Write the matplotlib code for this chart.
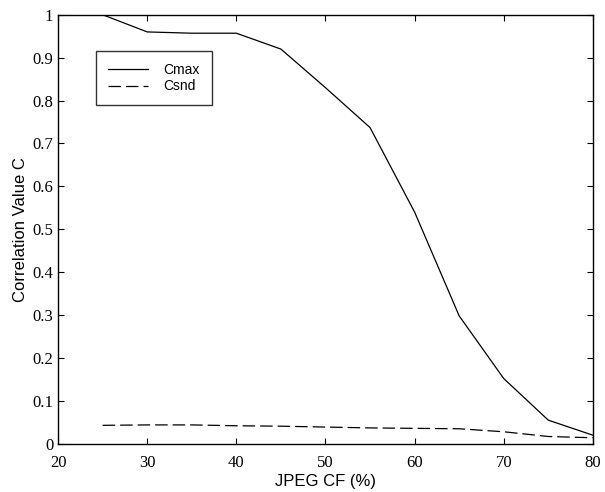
import matplotlib.pyplot as plt

# JPEG compression factor (%)
jpeg_cf = [25, 30, 35, 40, 45, 50, 55, 60, 65, 70, 75, 80]
# correlation values
cmax = [1.0, 0.96, 0.957, 0.957, 0.92, 0.83, 0.737, 0.54, 0.298, 0.152, 0.055, 0.02]
csnd = [0.043, 0.044, 0.044, 0.042, 0.041, 0.039, 0.037, 0.036, 0.035, 0.028, 0.017, 0.014]

fig = plt.figure(figsize=(6.05, 4.92), dpi=100)
ax = fig.add_axes([0.096, 0.098, 0.884, 0.872])

ax.plot(jpeg_cf, cmax, color='black', lw=0.9, label='Cmax')
ax.plot(jpeg_cf, csnd, color='black', lw=0.9, linestyle=(0, (10, 4)), label='Csnd')

ax.set_xlim(20, 80)
ax.set_ylim(0, 1)
ax.set_xticks(range(20, 81, 10))
ax.set_yticks([i / 10 for i in range(11)])
ax.set_yticklabels(['0', '0.1', '0.2', '0.3', '0.4', '0.5', '0.6', '0.7', '0.8', '0.9', '1'])
ax.tick_params(direction='in', top=True, right=True, length=4, width=0.8)
ax.tick_params(axis='x', pad=8)
for lbl in ax.get_xticklabels() + ax.get_yticklabels():
    lbl.set_fontfamily('Liberation Serif')
    lbl.set_fontsize(12)
for s in ax.spines.values():
    s.set_linewidth(1.0)

ax.set_xlabel('JPEG CF (%)', fontfamily='Liberation Sans', fontsize=12, labelpad=2)
ax.set_ylabel('Correlation Value C', fontfamily='Liberation Sans', fontsize=12, labelpad=3)

leg = ax.legend(loc='upper left', bbox_to_anchor=(0.071, 0.916), borderaxespad=0,
                frameon=True, fancybox=False, edgecolor='black', handlelength=2.9,
                handletextpad=1.1, borderpad=0.85, labelspacing=0.2,
                prop={'family': 'Liberation Sans', 'size': 10})
leg.get_frame().set_linewidth(1.0)

plt.savefig('out.png', dpi=100)
